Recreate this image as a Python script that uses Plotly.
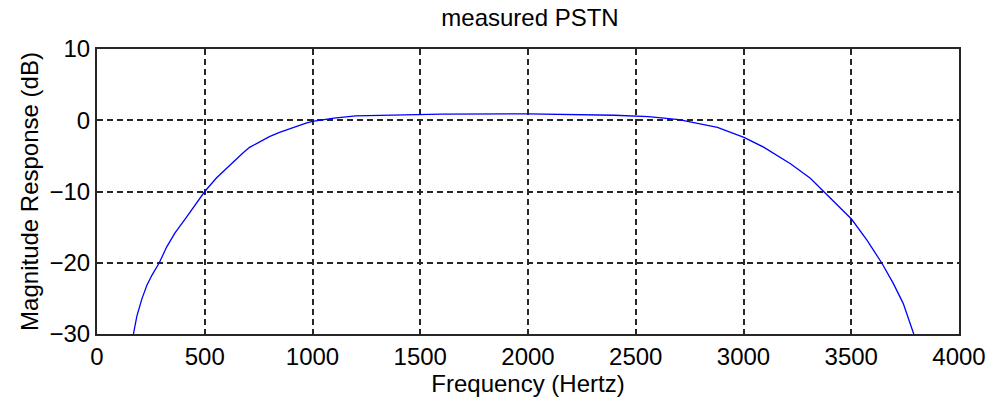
import plotly.graph_objects as go

# measured PSTN magnitude response
freq_hz = [169, 185, 208, 231, 254, 289, 323, 362, 408, 454, 500, 554, 585, 631, 677, 708,
           754, 800, 847, 893, 970, 1000, 1100, 1200, 1400, 1600, 2000, 2280, 2400, 2560,
           2700, 2787, 2879, 3002, 3095, 3218, 3310, 3372, 3433, 3502, 3572, 3641, 3695,
           3741, 3790]
mag_db = [-30, -27.5, -25.1, -23.2, -21.8, -20, -17.8, -15.8, -13.9, -11.9, -10, -8.1, -7.2,
          -5.8, -4.6, -3.8, -3.0, -2.3, -1.7, -1.2, -0.4, -0.15, 0.3, 0.6, 0.75, 0.85, 0.9,
          0.8, 0.7, 0.5, 0.1, -0.45, -1.0, -2.4, -3.8, -6.1, -8.15, -10, -11.8, -13.9,
          -16.8, -20, -22.9, -25.7, -30]

x_ticks = [0, 500, 1000, 1500, 2000, 2500, 3000, 3500, 4000]
y_ticks = [-30, -20, -10, 0, 10]

FONT = "Liberation Sans, Arial, sans-serif"
FSIZE = 24

fig = go.Figure()
fig.add_trace(go.Scatter(
    x=freq_hz,
    y=mag_db,
    mode="lines",
    line=dict(color="#0000FF", width=1.3),
    showlegend=False,
))

axis_common = dict(
    showline=True,
    linecolor="#262626",
    linewidth=2,
    mirror=True,
    showgrid=True,
    gridcolor="#262626",
    gridwidth=1.5,
    griddash="6px,4px",
    zeroline=False,
    ticks="inside",
    ticklen=5,
    tickcolor="#262626",
    tickfont=dict(color="#000000", size=FSIZE, family=FONT),
)

fig.update_layout(
    width=998,
    height=415,
    paper_bgcolor="white",
    plot_bgcolor="white",
    margin=dict(l=97, r=35, t=49, b=81),
    title=dict(
        text="measured PSTN",
        x=0.5 * (97 + 963) / 998,
        xanchor="center",
        y=1 - 18 / 415,
        yanchor="middle",
        font=dict(color="#000000", size=FSIZE, family=FONT),
    ),
    xaxis=dict(
        range=[0, 4000],
        tickvals=x_ticks,
        title=dict(text="Frequency (Hertz)", font=dict(color="#000000", size=FSIZE, family=FONT), standoff=2),
        **axis_common,
    ),
    yaxis=dict(
        range=[-30, 10],
        tickvals=y_ticks,
        title=dict(text="Magnitude Response (dB)", font=dict(color="#000000", size=FSIZE, family=FONT), standoff=4),
        **axis_common,
    ),
)

fig.write_html("out.html", config={"displayModeBar": False},
               post_script="document.body.style.margin='0';")
